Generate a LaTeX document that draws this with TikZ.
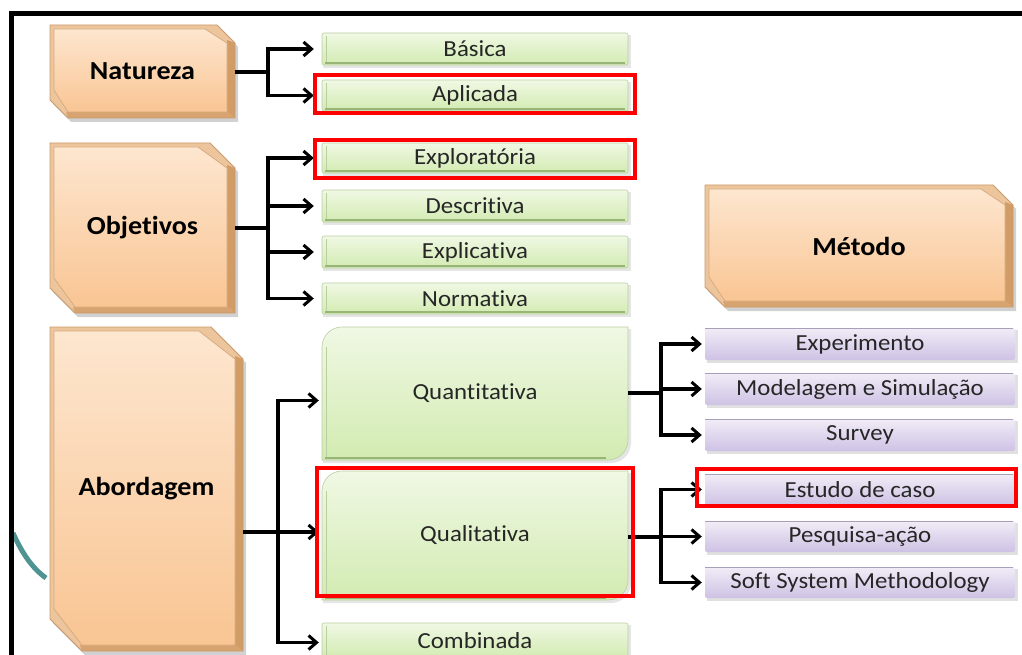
\documentclass[tikz,border=0pt]{standalone}
\usepackage{fontspec}
\setmainfont{Carlito}[FakeStretch=1.08, RawFeature={-liga,-clig}]
\usetikzlibrary{arrows.meta}
\definecolor{otop}{HTML}{FDE6CF}
\definecolor{obot}{HTML}{F9C593}
\definecolor{obev}{HTML}{EDC59C}
\definecolor{odark}{HTML}{D29C66}
\definecolor{oline}{HTML}{C99B6C}
\definecolor{gtop}{HTML}{F0F8E4}
\definecolor{gbot}{HTML}{D2EBB1}
\definecolor{gline}{HTML}{B9CFA0}
\definecolor{gdark}{HTML}{98B577}
\definecolor{ptop}{HTML}{F1ECF7}
\definecolor{pbot}{HTML}{CEC2E4}
\definecolor{pline}{HTML}{A89FB9}
\definecolor{tealc}{HTML}{4F9393}
\definecolor{redc}{HTML}{FF0000}
\definecolor{txt}{HTML}{262626}
\tikzset{
  x=1pt, y=-1pt,
  lbl/.style={rectangle, inner sep=0pt, font=\fontsize{23}{26}\selectfont, text=txt},
  head/.style={rectangle, inner sep=0pt, font=\fontsize{26}{30}\selectfont\bfseries, text=black},
  conn/.style={line width=3.2pt, black},
  arr/.style={conn, -{Straight Barb[length=8pt,width=14pt,line width=3pt]}},
  hilite/.style={draw=redc, line width=4pt}
}
\newcommand\opoly[5]{(#1,#2) -- ({#3-#5},#2) -- (#3,{#2+#5}) -- (#3,#4) -- ({#1+#5},#4) -- (#1,{#4-#5}) -- cycle}
\newcommand\obox[7]{%
  \fill[black!18] \opoly{#2+3}{#3+4}{#4+3}{#5+4}{#7};
  \fill[obev] \opoly{#2}{#3}{#4}{#5}{#7};
  \fill[odark] ({#4-8},{#3+#7-3}) -- (#4,{#3+#7}) -- (#4,#5) -- ({#4-8},{#5-6}) -- cycle;
  \fill[odark!80!obev] ({#2+#7-2},{#5-6}) -- ({#4-8},{#5-6}) -- (#4,#5) -- ({#2+#7},#5) -- cycle;
  \shade[top color=otop,bottom color=obot] \opoly{#2+4}{#3+4}{#4-8}{#5-6}{#7-4};
  \draw[oline!60!obev, line width=0.8pt] \opoly{#2+4}{#3+4}{#4-8}{#5-6}{#7-4};
  \draw[oline, line width=0.8pt] \opoly{#2}{#3}{#4}{#5}{#7};
  \node[head, minimum width={(#4-#2)*1pt}, minimum height={(#5-#3)*1pt}] (#1) at ({(#2+#4)/2},{(#3+#5)/2}) {#6};
}
\newcommand\gbox[6]{%
  \fill[black!10] (#2+1,#3+2) rectangle (#4+3,#5+3);
  \shade[top color=gtop,bottom color=gbot, draw=gline, line width=0.6pt, rounded corners=2pt] (#2,#3) rectangle (#4,#5);
  \draw[gdark, line width=1.4pt] (#2+3,#5-2) -- (#4-3,#5-2);
  \draw[gline, line width=1pt] (#2+4,#3+3) -- (#2+4,#5-3);
  \node[lbl, minimum width={(#4-#2)*1pt}, minimum height={(#5-#3)*1pt}] (#1) at ({(#2+#4)/2},{(#3+#5)/2}) {#6};
}
\newcommand\bgbox[6]{%
  \fill[black!10] (#2+1,#3+20+2) arc[start angle=180,end angle=90,radius=20pt] -- (#4+3,#3+2) -- (#4+3,#5-20+3) arc[start angle=0,end angle=-90,radius=20pt] -- (#2+1,#5+3) -- cycle;
  \shade[top color=gtop,bottom color=gbot, draw=gline, line width=0.6pt] (#2,#3+20) arc[start angle=180,end angle=90,radius=20pt] -- (#4,#3) -- (#4,#5-20) arc[start angle=0,end angle=-90,radius=20pt] -- (#2,#5) -- cycle;
  \draw[gdark, line width=1.4pt] (#2+3,#5-2) -- (#4-22,#5-2);
  \draw[gline, line width=1pt] (#2+4,#3+20) -- (#2+4,#5-3);
  \node[lbl, minimum width={(#4-#2)*1pt}, minimum height={(#5-#3)*1pt}] (#1) at ({(#2+#4)/2},{(#3+#5)/2}) {#6};
}
\newcommand\pbox[6]{%
  \fill[black!12] (#2+2,#3+2) rectangle (#4+3,#5+3);
  \shade[top color=ptop,bottom color=pbot, rounded corners=2pt] (#2,#3) rectangle (#4,#5);
  \draw[pline, line width=1.2pt] (#2,#3+0.6) -- (#4-2,#3+0.6);
  \node[lbl, minimum width={(#4-#2)*1pt}, minimum height={(#5-#3)*1pt}] (#1) at ({(#2+#4)/2},{(#3+#5)/2}) {#6};
}
\begin{document}
\begin{tikzpicture}
\useasboundingbox (0,0) rectangle (1022,655);
\fill[white] (0,0) rectangle (1022,655);
% background arc
\draw[tealc, line width=5pt] (13,533) .. controls (22,553) and (32,568) .. (46,578);
% frame
\draw[black, line width=5pt] (11.5,660) -- (11.5,13.5) -- (1030,13.5);

% junction coordinates
\coordinate (natj) at (268,72);
\coordinate (objj) at (268,228);
\coordinate (aboj) at (278,532);
\coordinate (quaj) at (661,393);
\coordinate (qlj) at (661,537);

% boxes
\obox{nat}{50}{25}{235}{118}{Natureza}{18}
\obox{obj}{50}{143}{235}{313}{Objetivos}{25}
\obox{abo}{50}{327}{243}{651}{Abordagem}{32}
\obox{met}{705}{185}{1013}{307}{Método}{20}

\gbox{bas}{322}{33}{628}{65}{Básica}
\gbox{apl}{322}{80}{628}{111}{Aplicada}
\gbox{exl}{322}{143}{628}{173}{Exploratória}
\gbox{des}{322}{190}{628}{222}{Descritiva}
\gbox{exc}{322}{236}{628}{268}{Explicativa}
\gbox{nor}{322}{283}{628}{314}{Normativa}
\bgbox{qnt}{322}{327}{628}{460}{Quantitativa}
\bgbox{qlt}{322}{471}{628}{600}{Qualitativa}
\gbox{com}{322}{623}{628}{658}{Combinada}

\pbox{expm}{705}{328}{1015}{360}{Experimento}
\pbox{mod}{705}{373}{1015}{405}{Modelagem e Simulação}
\pbox{sur}{705}{419}{1015}{451}{Survey}
\pbox{est}{705}{474}{1015}{505}{Estudo de caso}
\pbox{pes}{705}{521}{1015}{552}{Pesquisa-ação}
\pbox{sof}{705}{567}{1015}{598}{Soft System Methodology}

% connectors
\draw[conn] (nat.east |- natj) -- (natj);
\draw[arr, shorten >=8pt] (natj) |- (bas.west);
\draw[arr, shorten >=8pt] (natj) |- (apl.west);

\draw[conn] (obj.east |- objj) -- (objj);
\draw[arr, shorten >=8pt] (objj) |- (exl.west);
\draw[arr, shorten >=8pt] (objj) |- (des.west);
\draw[arr, shorten >=8pt] (objj) |- (exc.west);
\draw[arr, shorten >=8pt] (objj) |- (nor.west);

\draw[arr, shorten >=3pt] (abo.east |- aboj) -- (qlt.west |- aboj);
\draw[arr, shorten >=3pt] (aboj) |- ([yshift=-7pt]qnt.west);
\draw[arr, shorten >=3pt] (aboj) |- ([yshift=-2pt]com.west);

\draw[conn] (qnt.east |- quaj) -- (quaj);
\draw[arr, shorten >=3pt] (quaj) |- (expm.west);
\draw[arr, shorten >=3pt] (quaj) |- (mod.west);
\draw[arr, shorten >=3pt] (quaj) |- (sur.west);

\draw[conn] (qlt.east |- qlj) -- (qlj);
\draw[arr, shorten >=3pt] (qlj) |- (est.west);
\draw[arr, shorten >=3pt] (qlj) |- (pes.west);
\draw[arr, shorten >=3pt] (qlj) |- (sof.west);

% red highlights
\draw[hilite] (315,75) rectangle (635,113);
\draw[hilite] (315,140) rectangle (635,178);
\draw[hilite] (317,468) rectangle (633,596);
\draw[hilite] (697,469) rectangle (1016,506);
\end{tikzpicture}
\end{document}
